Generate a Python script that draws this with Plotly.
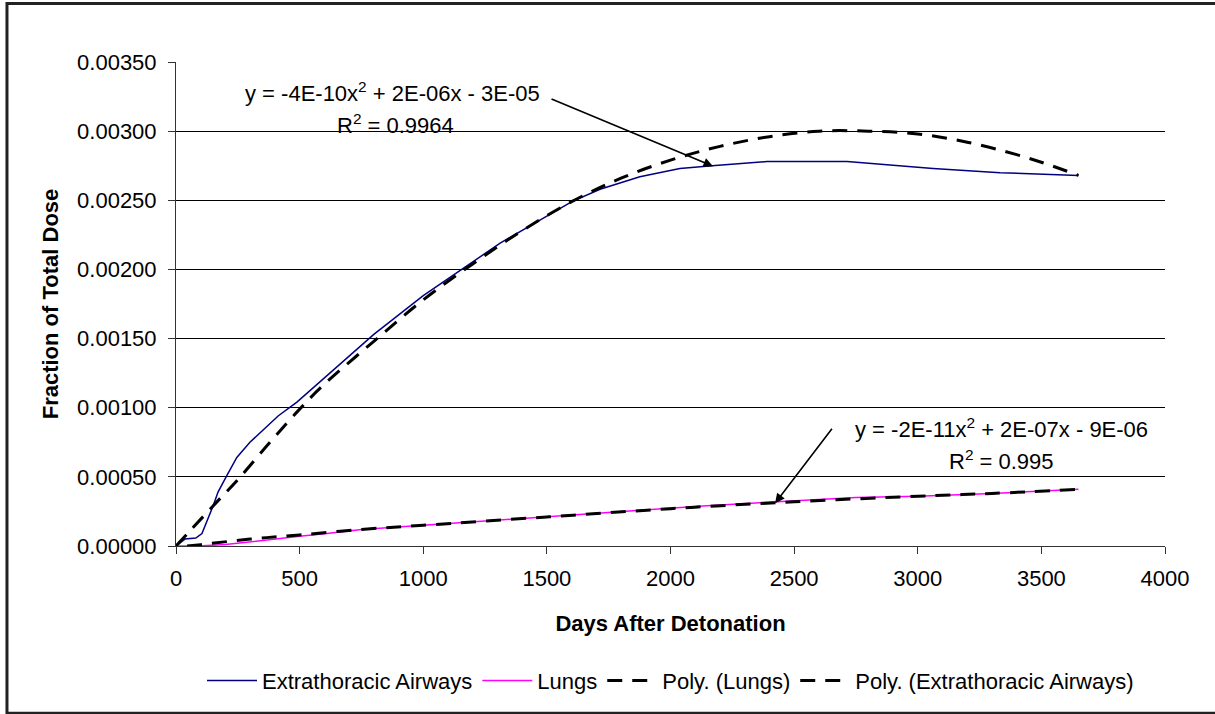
import plotly.graph_objects as go

# ---- data ----
days_ext = [0, 36, 80, 105, 150, 170, 206, 246, 299, 413, 489, 603, 800, 1000, 1311,
            1601, 1715, 1876, 2038, 2168, 2390, 2714, 3062, 3333, 3650]
frac_ext = [0.0, 0.00005, 0.000057, 0.00009, 0.00029, 0.00039, 0.00051, 0.00064, 0.00075,
            0.00094, 0.00104, 0.00122, 0.00153, 0.00181, 0.00219, 0.00249, 0.00258, 0.00267,
            0.00273, 0.00275, 0.00278, 0.00278, 0.00273, 0.00270, 0.00268]

days_lung = [0, 90, 200, 340, 500, 610, 750, 1000, 1250, 1500, 1750, 2000, 2131, 2431,
             2750, 3000, 3300, 3650]
frac_lung = [0.0, 0.0, 0.00001, 0.00004, 0.00007, 0.00009, 0.00012, 0.00015, 0.00018,
             0.00021, 0.00024, 0.00027, 0.00029, 0.00032, 0.00035, 0.00036, 0.00038, 0.00041]

days_poly_lung = [45, 100, 300, 500, 750, 1000, 1500, 2000, 2500, 3000, 3300, 3650]
frac_poly_lung = [0.0, 0.00001, 0.00005, 0.00008, 0.00012, 0.00015, 0.00021, 0.00027,
                  0.00032, 0.00036, 0.00038, 0.00041]

days_poly_ext = [0, 57, 150, 250, 380, 500, 600, 800, 1000, 1200, 1400, 1600, 1800, 2000,
                 2200, 2400, 2600, 2800, 3000, 3200, 3400, 3525, 3650]
frac_poly_ext = [0.0, 0.00011, 0.00029, 0.00048, 0.00075, 0.00099, 0.00117, 0.00148,
                 0.00178, 0.00204, 0.00228, 0.00249, 0.00266, 0.00279, 0.00289, 0.00296,
                 0.00300, 0.00300, 0.00298, 0.00292, 0.00283, 0.00276, 0.00268]

series_names = ["Extrathoracic Airways", "Lungs", "Poly. (Lungs)", "Poly. (Extrathoracic Airways)"]
x_ticks = [0, 500, 1000, 1500, 2000, 2500, 3000, 3500, 4000]
y_ticks = [0.0, 0.0005, 0.0010, 0.0015, 0.0020, 0.0025, 0.0030, 0.0035]

eq_ext = ["y = -4E-10x<sup>2</sup> + 2E-06x - 3E-05", "R<sup>2</sup> = 0.9964"]
eq_lung = ["y = -2E-11x<sup>2</sup> + 2E-07x - 9E-06", "R<sup>2</sup> = 0.995"]

FONT = "Liberation Sans, Arial, sans-serif"

fig = go.Figure()
fig.add_trace(go.Scatter(x=days_ext, y=frac_ext, mode="lines", name=series_names[0],
                         line=dict(color="#000080", width=1.5)))
fig.add_trace(go.Scatter(x=days_lung, y=frac_lung, mode="lines", name=series_names[1],
                         line=dict(color="#FF00FF", width=1.5)))
fig.add_trace(go.Scatter(x=days_poly_lung, y=frac_poly_lung, mode="lines", name=series_names[2],
                         line=dict(color="black", width=3, dash="15px,10px", shape="spline")))
fig.add_trace(go.Scatter(x=days_poly_ext, y=frac_poly_ext, mode="lines", name=series_names[3],
                         line=dict(color="black", width=3, dash="15px,10px", shape="spline")))

# equation labels
ann = []
ann.append(dict(x=874, y=0.003282, text=eq_ext[0]))
ann.append(dict(x=886, y=0.003054, text=eq_ext[1]))
ann.append(dict(x=3337, y=0.000854, text=eq_lung[0]))
ann.append(dict(x=3337, y=0.000625, text=eq_lung[1]))
for a in ann:
    fig.add_annotation(xref="x", yref="y", showarrow=False, xanchor="center", yanchor="middle",
                       font=dict(family=FONT, size=22, color="black"), **a)

# arrows
fig.add_annotation(x=2172, y=0.002746, xref="x", yref="y", text="", showarrow=True,
                   ax=-163, ay=-68, arrowhead=2, arrowsize=1.2, arrowwidth=1.6, arrowcolor="black")
fig.add_annotation(x=2423, y=0.000309, xref="x", yref="y", text="", showarrow=True,
                   ax=58, ay=-76, arrowhead=2, arrowsize=1.2, arrowwidth=1.6, arrowcolor="black")

# outer border
fig.add_shape(type="rect", xref="paper", yref="paper", x0=-0.1709, x1=1.0556, y0=-0.3456, y1=1.1207,
              line=dict(color="#222222", width=3))

fig.update_layout(
    width=1215, height=714,
    margin=dict(l=176, r=50, t=62, b=163),
    paper_bgcolor="white", plot_bgcolor="white",
    font=dict(family=FONT, size=22, color="black"),
    showlegend=True,
    legend=dict(orientation="h", x=0.5, xanchor="center", y=-0.235, yanchor="top",
                font=dict(family=FONT, size=22, color="black"), itemwidth=50,
                bgcolor="rgba(0,0,0,0)"),
    xaxis=dict(range=[0, 4000], tickvals=x_ticks, ticktext=[str(v) for v in x_ticks],
               showgrid=False, zeroline=False, showline=True, linecolor="#333333", linewidth=1,
               ticks="outside", ticklen=7, tickcolor="#333333", ticklabelstandoff=6,
               title=dict(text="<b>Days After Detonation</b>", font=dict(size=22), standoff=25)),
    yaxis=dict(range=[0, 0.0035], tickvals=y_ticks, ticktext=[f"{v:.5f}" for v in y_ticks],
               showgrid=True, gridcolor="black", gridwidth=1, zeroline=False,
               showline=True, linecolor="#333333", linewidth=1,
               ticks="outside", ticklen=7, tickcolor="#333333", ticklabelstandoff=7,
               title=dict(text="<b>Fraction of Total Dose</b>", font=dict(size=22), standoff=12)),
)

fig.write_html("out.html", config={"displayModeBar": False},
               post_script="document.body.style.margin='0';document.body.style.overflow='hidden';")
